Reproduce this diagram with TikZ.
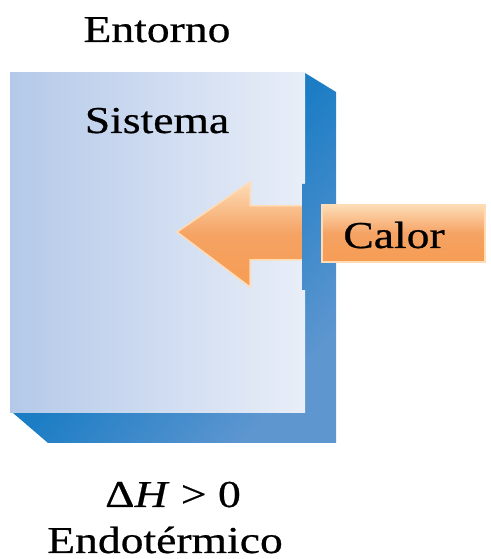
\documentclass[tikz,border=0pt]{standalone}
\usepackage{fontspec}
\setmainfont{Liberation Serif}[FakeStretch=1.2,FakeBold=0.6]
\definecolor{faceL}{HTML}{B4C9E9}
\definecolor{faceR}{HTML}{E9EEF8}
\definecolor{sideD}{HTML}{0474C0}
\definecolor{sideL}{HTML}{5E96D0}
\definecolor{orgC}{HTML}{F5A263}
\definecolor{orgL}{HTML}{FDDCB6}
\begin{document}
\begin{tikzpicture}[x=1pt,y=1pt,
  lbl/.style={inner sep=0pt,anchor=base,font=\fontsize{38}{40}\selectfont},
  sideshade/.style={left color=sideD,right color=sideL,middle color=sideD!72!sideL,shading angle=50},
  orangeshade/.style={top color=orgL,bottom color=orgC!85!orange,middle color=orgC}]
\useasboundingbox (0,0) rectangle (490,559);
\def\sidepath{(305,486) -- (336,467) -- (336,116) -- (48,116) -- (13,146) -- (305,146) -- (305,269) -- (302,269) -- (302,375) -- (305,375) -- cycle}
% side + bottom faces
\shade[sideshade] \sidepath;
% front face
\shade[left color=faceL,right color=faceR] (10,146) rectangle (305,486);
% arrow (head + shaft)
\path[orangeshade,draw=orgL,line width=1.5pt,line join=miter]
  (177,327) -- (250,377) -- (250,353) -- (310,353) -- (310,299) -- (250,299) -- (250,272) -- cycle;
% wall slot covering the arrow shaft
\begin{scope}
  \clip (302,269) rectangle (336,375);
  \shade[sideshade] \sidepath;
\end{scope}
% Calor box
\path[orangeshade,draw=orgL,line width=2pt] (322,297) rectangle (485,354);
% texts
\node[lbl] (entorno) at (157,517) {Entorno};
\node[lbl] (sistema) at (157,426) {Sistema};
\node[lbl] (calor) at (394,311) {Calor};
\node[lbl] (dh) at (173,52) {Δ\textit{H} > 0};
\node[lbl] (endo) at (165,6) {Endotérmico};
\end{tikzpicture}
\end{document}
